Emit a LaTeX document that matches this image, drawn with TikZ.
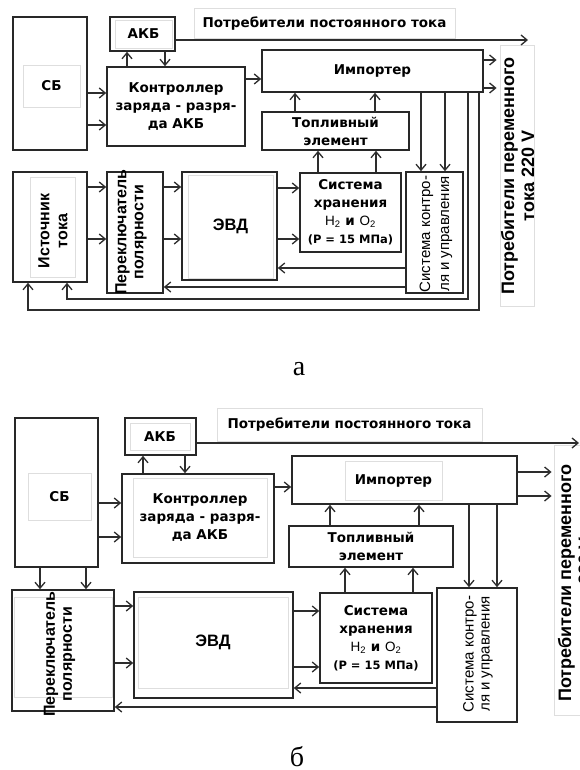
\documentclass[tikz,border=0pt]{standalone}
\usepackage{fontspec}
\usetikzlibrary{arrows.meta,positioning,calc}
\setmainfont{Liberation Serif}
\newfontfamily\verdfont{DejaVu Sans}
\newfontfamily\arialfont{Liberation Sans}
\definecolor{framegray}{RGB}{40,40,40}
\definecolor{wiregray}{RGB}{45,45,45}
\definecolor{ghostgray}{RGB}{222,222,222}
\tikzset{
  blockbox/.style={draw=framegray, line width=1.6pt, inner sep=0pt},
  ghostbox/.style={draw=ghostgray, line width=0.9pt, inner sep=0pt},
  boldlabel/.style={font=\verdfont\bfseries\fontsize{13.5}{18}\selectfont, align=center, inner sep=0pt},
  evdlabel/.style={font=\arialfont\bfseries\fontsize{16.5}{19}\selectfont},
  sidelabel/.style={font=\arialfont\bfseries\fontsize{16}{#1}\selectfont, align=center, rotate=90, inner sep=0pt},
  sidelabel/.default=18,
  loadlabel/.style={sidelabel, font=\arialfont\bfseries\fontsize{18}{20}\selectfont},
  thinlabel/.style={font=\arialfont\fontsize{15}{#1}\selectfont, align=center, rotate=90, inner sep=0pt},
  thinlabel/.default=19,
  flow/.style={draw=wiregray, line width=1.3pt, -{Straight Barb[length=6pt,width=10pt]}},
  caption/.style={font=\fontsize{28}{30}\selectfont},
}

\begin{document}
\begin{tikzpicture}[x=1pt, y=-1pt]
\useasboundingbox (0,0) rectangle (580,770);
\clip (0,0) rectangle (580,770);

%% ── Scheme (а): blocks ───────────────────────────────────────────────────
\node[blockbox, minimum width=74pt, minimum height=133pt] (sbA) at (50,83.5) {};
\node[ghostbox, boldlabel, minimum width=57pt, minimum height=42pt] (sbAlbl) at (51.5,86) {СБ};
\node[blockbox, minimum width=65pt, minimum height=34pt] (akbA) at (142.5,34) {};
\node[ghostbox, boldlabel, minimum width=57pt, minimum height=28pt] (akbAlbl) at (143.5,34) {АКБ};
\node[blockbox, boldlabel, minimum width=138pt, minimum height=79pt] (ctrlA) at (176,106.5)
  {Контроллер\\заряда - разря-\\да АКБ};
\node[blockbox, boldlabel, minimum width=221pt, minimum height=42pt] (impA) at (372.5,71) {Импортер};
\node[blockbox, boldlabel, minimum width=147pt, minimum height=38pt] (fcA) at (335.5,131)
  {Топливный\\элемент};
\node[blockbox, minimum width=74pt, minimum height=110pt] (srcA) at (50,227) {};
\node[ghostbox, minimum width=45pt, minimum height=100pt] (srcAin) at (52.5,227) {};
\node[sidelabel] (srcAlbl) at (53,231) {Источник\\тока};
\node[blockbox, minimum width=56pt, minimum height=121pt] (swA) at (135,232.5) {};
\node[sidelabel=17] (swAlbl) at (131,232) {Переключатель\\полярности};
\node[blockbox, minimum width=95pt, minimum height=108pt] (evdA) at (229.5,226) {};
\node[ghostbox, evdlabel, minimum width=85pt, minimum height=103pt] (evdAlbl) at (230.5,226.5) {ЭВД};
\node[blockbox, boldlabel, minimum width=101pt, minimum height=79pt] (stA) at (350.5,212.5)
  {Система\\хранения\\{\arialfont\mdseries H\textsubscript{2}} и {\arialfont\mdseries O\textsubscript{2}}\\{\fontsize{11.5}{18}\selectfont(P = 15 МПа)}};
\node[blockbox, minimum width=57pt, minimum height=121pt] (ctlA) at (434.5,232.5) {};
\node[thinlabel] (ctlAlbl) at (436,234) {Система контро-\\ля и управления};

%% consumers
\node[ghostbox, boldlabel, minimum width=261pt, minimum height=30pt] (dcA) at (324.5,23.5)
  {Потребители постоянного тока};
\node[ghostbox, minimum width=34pt, minimum height=261pt] (acA) at (517,175.5) {};
\node[loadlabel] (acAlbl) at (517.5,176) {Потребители переменного\\тока 220 V};
\coordinate (dcEndA) at (528,40);

%% ── Scheme (а): connectors ───────────────────────────────────────────────
\draw[flow] (akbA.east |- dcEndA) -- (dcEndA);
\draw[flow] (sbA.east |- 0,93) -- (ctrlA.west |- 0,93);
\draw[flow] (sbA.east |- 0,125) -- (ctrlA.west |- 0,125);
\draw[flow] (ctrlA.north -| 127,0) -- (akbA.south -| 127,0);
\draw[flow] (akbA.south -| 165,0) -- (ctrlA.north -| 165,0);
\draw[flow] (ctrlA.east |- 0,79) -- (impA.west |- 0,79);
\draw[flow, shorten >=3pt] (impA.east |- 0,60) -- (acA.west |- 0,60);
\draw[flow, shorten >=3pt] (impA.east |- 0,88) -- (acA.west |- 0,88);
\draw[flow] (fcA.north -| 295,0) -- (impA.south -| 295,0);
\draw[flow] (fcA.north -| 375,0) -- (impA.south -| 375,0);
\draw[flow] (stA.north -| 318,0) -- (fcA.south -| 318,0);
\draw[flow] (stA.north -| 376,0) -- (fcA.south -| 376,0);
\draw[flow] (srcA.east |- 0,187) -- (swA.west |- 0,187);
\draw[flow] (srcA.east |- 0,239) -- (swA.west |- 0,239);
\draw[flow] (swA.east |- 0,187) -- (evdA.west |- 0,187);
\draw[flow] (swA.east |- 0,239) -- (evdA.west |- 0,239);
\draw[flow] (evdA.east |- 0,188) -- (stA.west |- 0,188);
\draw[flow] (evdA.east |- 0,239) -- (stA.west |- 0,239);
\draw[flow] (impA.south -| 421,0) -- (ctlA.north -| 421,0);
\draw[flow] (impA.south -| 445,0) -- (ctlA.north -| 445,0);
\draw[flow] (ctlA.west |- 0,268) -- (evdA.east |- 0,268);
\draw[flow] (ctlA.west |- 0,287) -- (swA.east |- 0,287);
\draw[flow] (impA.south -| 468,0) -- (468,299) -| (srcA.south -| 67,0);
\draw[flow] (impA.south -| 479,0) -- (479,310) -| (srcA.south -| 28,0);

\node[caption] (capA) at (299,369) {а};

%% ── Scheme (б): blocks ───────────────────────────────────────────────────
\node[blockbox, minimum width=83pt, minimum height=149pt] (sbB) at (56.5,492.5) {};
\node[ghostbox, boldlabel, minimum width=63pt, minimum height=47pt] (sbBlbl) at (59.5,496.5) {СБ};
\node[blockbox, minimum width=71pt, minimum height=37pt] (akbB) at (160.5,436.5) {};
\node[ghostbox, boldlabel, minimum width=60pt, minimum height=27pt] (akbBlbl) at (160,436.5) {АКБ};
\node[blockbox, minimum width=152pt, minimum height=89pt] (ctrlB) at (198,518.5) {};
\node[ghostbox, boldlabel, minimum width=134pt, minimum height=79pt] (ctrlBlbl) at (200,517.5)
  {Контроллер\\заряда - разря-\\да АКБ};
\node[blockbox, minimum width=225pt, minimum height=48pt] (impB) at (404.5,480) {};
\node[ghostbox, boldlabel, minimum width=97pt, minimum height=39pt] (impBlbl) at (393.5,480.5) {Импортер};
\node[blockbox, boldlabel, minimum width=164pt, minimum height=41pt] (fcB) at (371,546.5)
  {Топливный\\элемент};
\node[blockbox, minimum width=102pt, minimum height=121pt] (swB) at (63,650.5) {};
\node[ghostbox, minimum width=98pt, minimum height=100pt] (swBin) at (63,647) {};
\node[sidelabel=17] (swBlbl) at (59.5,654) {Переключатель\\полярности};
\node[blockbox, minimum width=159pt, minimum height=106pt] (evdB) at (213.5,645) {};
\node[ghostbox, evdlabel, minimum width=150pt, minimum height=91pt] (evdBlbl) at (213,642.5) {ЭВД};
\node[blockbox, boldlabel, minimum width=112pt, minimum height=90pt] (stB) at (376,638)
  {Система\\хранения\\{\arialfont\mdseries H\textsubscript{2}} и {\arialfont\mdseries O\textsubscript{2}}\\{\fontsize{11.5}{18}\selectfont(P = 15 МПа)}};
\node[blockbox, minimum width=80pt, minimum height=134pt] (ctlB) at (477,655) {};
\node[thinlabel=16] (ctlBlbl) at (478,654) {Система контро-\\ля и управления};

%% consumers
\node[ghostbox, boldlabel, minimum width=265pt, minimum height=33pt] (dcB) at (349.5,424.5)
  {Потребители постоянного тока};
\node[ghostbox, minimum width=40pt, minimum height=270pt] (acB) at (574,580) {};
\node[loadlabel] (acBlbl) at (574.5,583) {Потребители переменного\\тока 220 V};
\coordinate (dcEndB) at (579,443);

%% ── Scheme (б): connectors ───────────────────────────────────────────────
\draw[flow] (akbB.east |- dcEndB) -- (dcEndB);
\draw[flow] (sbB.east |- 0,503) -- (ctrlB.west |- 0,503);
\draw[flow] (sbB.east |- 0,537) -- (ctrlB.west |- 0,537);
\draw[flow] (ctrlB.north -| 143,0) -- (akbB.south -| 143,0);
\draw[flow] (akbB.south -| 185,0) -- (ctrlB.north -| 185,0);
\draw[flow] (ctrlB.east |- 0,487) -- (impB.west |- 0,487);
\draw[flow, shorten >=2pt] (impB.east |- 0,472) -- (acB.west |- 0,472);
\draw[flow, shorten >=2pt] (impB.east |- 0,496) -- (acB.west |- 0,496);
\draw[flow] (fcB.north -| 330,0) -- (impB.south -| 330,0);
\draw[flow] (fcB.north -| 419,0) -- (impB.south -| 419,0);
\draw[flow] (stB.north -| 345,0) -- (fcB.south -| 345,0);
\draw[flow] (stB.north -| 413,0) -- (fcB.south -| 413,0);
\draw[flow] (sbB.south -| 40,0) -- (swB.north -| 40,0);
\draw[flow] (sbB.south -| 86,0) -- (swB.north -| 86,0);
\draw[flow] (swB.east |- 0,606) -- (evdB.west |- 0,606);
\draw[flow] (swB.east |- 0,663) -- (evdB.west |- 0,663);
\draw[flow] (evdB.east |- 0,611) -- (stB.west |- 0,611);
\draw[flow] (evdB.east |- 0,667) -- (stB.west |- 0,667);
\draw[flow] (impB.south -| 469,0) -- (ctlB.north -| 469,0);
\draw[flow] (impB.south -| 497,0) -- (ctlB.north -| 497,0);
\draw[flow] (ctlB.west |- 0,688) -- (evdB.east |- 0,688);
\draw[flow] (ctlB.west |- 0,707) -- (swB.east |- 0,707);

\node[caption] (capB) at (297,757) {б};

\end{tikzpicture}
\end{document}
